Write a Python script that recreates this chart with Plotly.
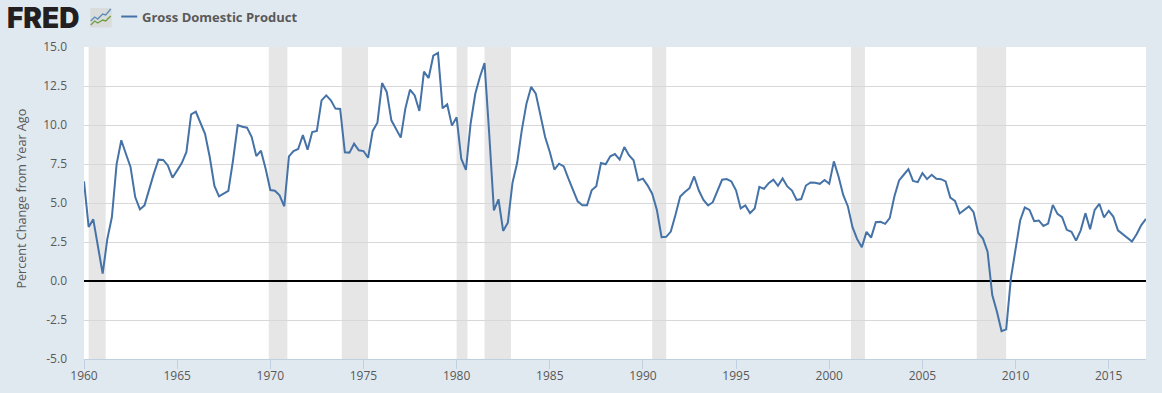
import pandas as pd
import plotly.graph_objects as go

WIDTH = 1162
HEIGHT = 393
LEFT, RIGHT, TOP, BOTTOM = 84.3, 16, 47, 33.7

BG = "#E1E9F0"
GRID = "#D8D8D8"
AXIS = "#C0D0E0"
TEXT = "#595959"
BLUE = "#4572A7"

SERIES_NAME = "Gross Domestic Product"
Y_TITLE = "Percent Change from Year Ago"

# quarterly, percent change from year ago
quarters = pd.date_range("1960-01-01", "2017-01-01", freq="QS")
gdp_1960s = [
    6.39, 3.46, 3.95, 2.18, 0.47, 2.67, 4.10, 7.48, 9.02, 8.16,
    7.31, 5.38, 4.59, 4.85, 5.92, 6.88, 7.78, 7.76, 7.41, 6.62,
    7.09, 7.56, 8.27, 10.68, 10.85, 10.19, 9.44, 7.95, 6.09, 5.43,
    5.60, 5.77, 7.74, 10.00, 9.89, 9.83, 9.23, 8.01, 8.35, 7.20,
]
gdp_1970s = [
    5.83, 5.79, 5.49, 4.79, 7.99, 8.33, 8.46, 9.36, 8.42, 9.55,
    9.62, 11.58, 11.90, 11.58, 11.05, 11.03, 8.25, 8.23, 8.80, 8.38,
    8.33, 7.90, 9.62, 10.15, 12.69, 12.12, 10.30, 9.76, 9.19, 11.05,
    12.26, 11.90, 10.90, 13.42, 13.01, 14.44, 14.62, 11.07, 11.32, 9.96,
]
gdp_1980s = [
    10.49, 7.84, 7.12, 10.08, 12.00, 13.08, 13.97, 9.44, 4.53, 5.24,
    3.21, 3.74, 6.30, 7.56, 9.66, 11.37, 12.44, 12.01, 10.62, 9.23,
    8.27, 7.14, 7.52, 7.35, 6.56, 5.81, 5.11, 4.85, 4.85, 5.81,
    6.07, 7.56, 7.48, 7.99, 8.14, 7.78, 8.59, 8.06, 7.74, 6.45,
]
gdp_1990s = [
    6.56, 6.13, 5.60, 4.56, 2.81, 2.83, 3.17, 4.24, 5.42, 5.70,
    5.95, 6.70, 5.80, 5.20, 4.84, 5.05, 5.78, 6.49, 6.53, 6.38,
    5.80, 4.65, 4.84, 4.35, 4.65, 6.04, 5.91, 6.27, 6.49, 6.10,
    6.57, 6.06, 5.80, 5.20, 5.25, 6.12, 6.32, 6.30, 6.23, 6.47,
]
gdp_2000s = [
    6.23, 7.67, 6.70, 5.52, 4.78, 3.45, 2.68, 2.16, 3.15, 2.78,
    3.77, 3.79, 3.66, 4.03, 5.42, 6.45, 6.81, 7.17, 6.42, 6.34,
    6.92, 6.53, 6.81, 6.55, 6.53, 6.38, 5.35, 5.14, 4.33, 4.56,
    4.78, 4.41, 3.08, 2.72, 1.88, -0.90, -1.97, -3.21, -3.10, 0.17,
]
gdp_2010s = [
    2.10, 3.88, 4.71, 4.56, 3.83, 3.88, 3.53, 3.68, 4.88, 4.30,
    4.09, 3.28, 3.15, 2.59, 3.25, 4.35, 3.32, 4.56, 4.95, 4.07,
    4.50, 4.13, 3.25, 3.02, 2.80, 2.53, 3.00, 3.58, 3.98,
]
gdp_yoy = gdp_1960s + gdp_1970s + gdp_1980s + gdp_1990s + gdp_2000s + gdp_2010s

recession_starts = ["1960-04-01", "1969-12-01", "1973-11-01", "1980-01-01",
                    "1981-07-01", "1990-07-01", "2001-03-01", "2007-12-01"]
recession_ends = ["1961-03-01", "1970-12-01", "1975-04-01", "1980-08-01",
                  "1982-12-01", "1991-04-01", "2001-12-01", "2009-07-01"]

y_ticks = [-5, -2.5, 0, 2.5, 5, 7.5, 10, 12.5, 15]
y_labels = ["-5.0", "-2.5", "0.0", "2.5", "5.0", "7.5", "10.0", "12.5", "15.0"]


def px_x(x):
    return (x - LEFT) / (WIDTH - LEFT - RIGHT)


def px_y(y):
    return 1 - (y - TOP) / (HEIGHT - TOP - BOTTOM)


def polyline(points):
    return "M " + " L ".join(f"{px_x(x):.5f},{px_y(y):.5f}" for x, y in points)


fig = go.Figure(go.Scatter(
    x=quarters,
    y=gdp_yoy,
    mode="lines",
    name=SERIES_NAME,
    line=dict(color=BLUE, width=2),
    showlegend=False,
))

for start, end in zip(recession_starts, recession_ends):
    fig.add_shape(type="rect", x0=start, x1=end, y0=0, y1=1, yref="paper",
                  fillcolor="#E6E6E6", line_width=0, layer="between")

# legend sample
fig.add_shape(type="line", xref="paper", yref="paper",
              x0=px_x(121.5), x1=px_x(137.5), y0=px_y(16.5), y1=px_y(16.5),
              line=dict(color=BLUE, width=2))

# small FRED chart icon
fig.add_shape(type="rect", xref="paper", yref="paper",
              x0=px_x(90.5), x1=px_x(112), y0=px_y(27.5), y1=px_y(8),
              fillcolor="#DADCDC", line_width=0)
fig.add_shape(type="path", xref="paper", yref="paper",
              path=polyline([(91, 21), (95, 17), (98, 19), (103, 14), (106, 15), (111, 9)]),
              line=dict(color="#5B8DB8", width=1.4))
fig.add_shape(type="path", xref="paper", yref="paper",
              path=polyline([(91, 25), (95, 21), (98, 23), (103, 20), (106, 21), (111, 16)]),
              line=dict(color="#6F9E45", width=1.4))

fig.add_annotation(text="FRED", xref="paper", yref="paper",
                   x=px_x(5.5), y=px_y(18), xanchor="left", yanchor="middle",
                   showarrow=False,
                   font=dict(family="Inter", size=28, weight=900, color="#231F20"))
fig.add_annotation(text=f"<b>{SERIES_NAME}</b>", xref="paper", yref="paper",
                   x=px_x(140), y=px_y(16.5), xanchor="left", yanchor="middle",
                   showarrow=False, font=dict(family="Open Sans", size=13, color=TEXT))
fig.add_annotation(text=Y_TITLE, xref="paper", yref="paper",
                   x=px_x(21.5), y=px_y(198.5), xanchor="center", yanchor="middle",
                   textangle=-90, showarrow=False,
                   font=dict(family="Open Sans", size=12.6, color=TEXT))

fig.update_layout(
    width=WIDTH,
    height=HEIGHT,
    autosize=False,
    margin=dict(l=LEFT, r=RIGHT, t=TOP, b=BOTTOM, pad=0),
    paper_bgcolor=BG,
    plot_bgcolor="#FFFFFF",
    font=dict(family="Open Sans", size=12, color=TEXT),
    hovermode="x",
)
fig.update_xaxes(
    automargin=False,
    range=["1960-01-01", "2017-01-01"],
    tick0="1960-01-01",
    dtick="M60",
    tickformat="%Y",
    showgrid=False,
    showline=True,
    linecolor=AXIS,
    linewidth=1,
    ticks="outside",
    ticklen=9,
    tickcolor=AXIS,
    tickwidth=1,
    ticklabelstandoff=-3,
)
fig.update_yaxes(
    automargin=False,
    range=[-5, 15],
    tickvals=y_ticks,
    ticktext=y_labels,
    gridcolor=GRID,
    gridwidth=1,
    zeroline=True,
    zerolinecolor="#000000",
    zerolinewidth=2,
    showline=False,
    ticks="",
    ticklabelstandoff=16,
)

fig.write_html(
    "out.html",
    config=dict(displayModeBar=False),
    post_script=f"document.body.style.margin='0';document.body.style.background='{BG}';",
)
